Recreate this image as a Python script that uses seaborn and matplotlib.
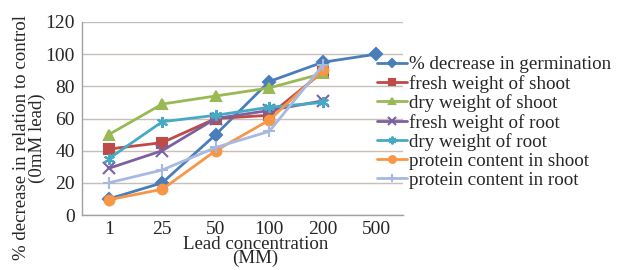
import matplotlib
matplotlib.use("Agg")
import matplotlib.pyplot as plt
import seaborn as sns
import pandas as pd

# data
concentrations = ["1", "25", "50", "100", "200", "500"]
germination = [10, 20, 50, 83, 95, 100]
fresh_shoot = [41, 45, 60, 62, 89]
dry_shoot = [50, 69, 74, 79, 88]
fresh_root = [29, 40, 60, 65, 71]
dry_root = [35, 58, 62, 67, 70]
protein_shoot = [9.5, 16, 40, 59, 90]
protein_root = [20, 28, 42, 52, 93]

series = [
    ("% decrease in germination", germination, "#4A7EBB", "D", 6),
    ("fresh weight of shoot", fresh_shoot, "#BE4B48", "s", 7),
    ("dry weight of shoot", dry_shoot, "#98B954", "^", 7),
    ("fresh weight of root", fresh_root, "#7D60A0", "x", 8),
    ("dry weight of root", dry_root, "#46AAC5", (6, 2, 0), 8),
    ("protein content in shoot", protein_shoot, "#F79646", "o", 7),
    ("protein content in root", protein_root, "#A7B9E1", "+", 8),
]

sns.set_style("white")
plt.rcParams["font.family"] = ["Liberation Serif", "DejaVu Serif"]

fig = plt.figure(figsize=(6.22, 2.70), dpi=100)
ax = fig.add_axes([82 / 622, 1 - 215 / 270, (403 - 82) / 622, (215 - 22) / 270])

for name, vals, color, marker, ms in series:
    df = pd.DataFrame({"x": range(len(vals)), "y": vals})
    sns.lineplot(data=df, x="x", y="y", ax=ax, color=color, marker=marker,
                 markersize=ms, linewidth=2, label=name,
                 markeredgecolor=color, markeredgewidth=1.5)

ax.set_xlim(-0.5, 5.5)
ax.set_ylim(0, 120)
ax.set_yticks(range(0, 121, 20))
ax.set_xticks(range(6))
ax.set_xticklabels(concentrations)
ax.set_xticks([i + 0.5 for i in range(-1, 6)], minor=True)
ax.tick_params(axis="x", which="major", length=0, labelsize=14, pad=4)
ax.tick_params(axis="x", which="minor", length=4, color="#A0A0A0", direction="out")
ax.tick_params(axis="y", length=4, width=1, color="#A0A0A0", direction="out",
               labelsize=14, pad=1)
ax.yaxis.grid(True, color="#C8C0B8", linewidth=1)
ax.set_axisbelow(True)
for s in ["top", "right"]:
    ax.spines[s].set_visible(False)
for s in ["left", "bottom"]:
    ax.spines[s].set_color("#A0A0A0")
    ax.spines[s].set_linewidth(1)

ax.set_xlabel("Lead concentration\n(MM)", fontsize=13.6, linespacing=0.76)
ax.xaxis.set_label_coords((255.5 - 82) / 321, -0.11)
ax.set_ylabel("% decrease in relation to control\n(0mM lead)", fontsize=13.6,
              linespacing=0.9)
ax.yaxis.set_label_coords(-0.112, 0.40)

ax.legend(loc="upper left", bbox_to_anchor=(377 / 622, 1 - 56 / 270),
          bbox_transform=fig.transFigure, frameon=False, fontsize=13.7,
          handlelength=1.6, handletextpad=0.1, labelspacing=0.08,
          borderaxespad=0, borderpad=0, markerscale=0.7)

fig.savefig("out.png", dpi=100)
